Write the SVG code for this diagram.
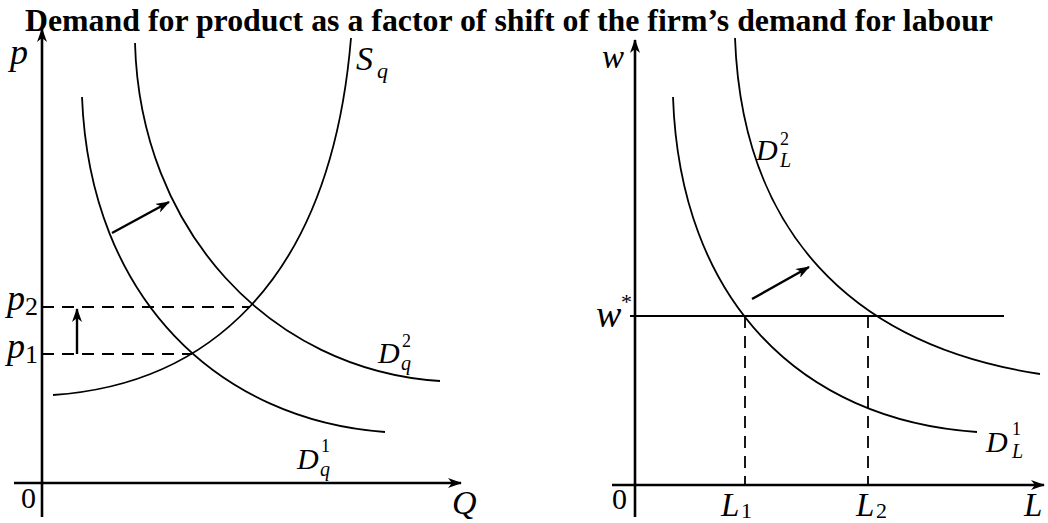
<svg xmlns="http://www.w3.org/2000/svg" width="1048" height="523" viewBox="0 0 1048 523">
<defs>
<marker id="ah" viewBox="0 0 14 10" refX="13" refY="5" markerWidth="14" markerHeight="10" markerUnits="userSpaceOnUse" orient="auto">
<path d="M0,0 L14,5 L0,10 L4,5 z" fill="#000"/>
</marker>
<style>
.ax{stroke:#000;stroke-width:2.6;fill:none}
.cv{stroke:#000;stroke-width:1.8;fill:none}
.ds{stroke:#000;stroke-width:1.8;fill:none;stroke-dasharray:12 8}
.ar{stroke:#000;stroke-width:2.4;fill:none}
.t{font-family:"Liberation Serif",serif;fill:#000}
.i{font-family:"Liberation Serif",serif;font-style:italic;fill:#000}
</style>
</defs>
<rect width="1048" height="523" fill="#fff"/>
<text class="t" x="25" y="31" font-size="31.5" font-weight="bold" textLength="968" lengthAdjust="spacingAndGlyphs">Demand for product as a factor of shift of the firm’s demand for labour</text>

<g id="left-axes">
<line class="ax" x1="42" y1="517" x2="42" y2="29" marker-end="url(#ah)"/>
<line class="ax" x1="14" y1="483" x2="461" y2="483" marker-end="url(#ah)"/>
<text class="i" x="10" y="64" font-size="36">p</text>
<text class="i" x="452" y="514" font-size="34">Q</text>
<text class="t" x="21" y="508" font-size="30">0</text>
</g>

<g id="right-axes">
<line class="ax" x1="635" y1="517" x2="635" y2="40" marker-end="url(#ah)"/>
<line class="ax" x1="612" y1="485" x2="1044" y2="485" marker-end="url(#ah)"/>
<text class="i" x="602" y="68" font-size="33">w</text>
<text class="i" x="1024" y="516" font-size="33">L</text>
<text class="t" x="612" y="509" font-size="30">0</text>
</g>

<g id="connectors">
<line class="ds" x1="42" y1="307" x2="250" y2="307"/>
<line class="ds" x1="42" y1="354" x2="192" y2="354"/>
<line class="ar" x1="77" y1="354" x2="77" y2="309" marker-end="url(#ah)"/>
<line class="ar" x1="112" y1="233" x2="169" y2="202" marker-end="url(#ah)"/>
<line class="cv" x1="630" y1="316" x2="1004" y2="316"/>
<line class="ds" x1="745" y1="316" x2="745" y2="485"/>
<line class="ds" x1="868" y1="316" x2="868" y2="485"/>
<line class="ar" x1="752" y1="299" x2="809" y2="267" marker-end="url(#ah)"/>
</g>

<g id="Dq1">
<path class="cv" d="M82,97 C90,300 220,420 385,432"/>
<text class="i" x="297" y="469" font-size="30">D</text>
<text class="t" x="321" y="452" font-size="18">1</text>
<text class="i" x="320" y="476" font-size="20">q</text>
</g>

<g id="Dq2">
<path class="cv" d="M135,43 C140,230 270,370 440,381"/>
<text class="i" x="378" y="363" font-size="30">D</text>
<text class="t" x="402" y="347" font-size="18">2</text>
<text class="i" x="401" y="370" font-size="20">q</text>
</g>

<g id="Sq">
<path class="cv" d="M53,395 C200,385 330,290 351,38"/>
<text class="i" x="356" y="70" font-size="34">S</text>
<text class="i" x="377" y="78" font-size="22">q</text>
</g>

<g id="p-labels">
<text class="i" x="7" y="310" font-size="36">p</text>
<text class="t" x="25" y="315" font-size="26">2</text>
<text class="i" x="7" y="358" font-size="36">p</text>
<text class="t" x="25" y="363" font-size="26">1</text>
</g>

<g id="DL1">
<path class="cv" d="M673,97 C680,300 800,420 977,432"/>
<text class="i" x="986" y="452" font-size="30">D</text>
<text class="t" x="1012" y="435" font-size="18">1</text>
<text class="i" x="1012" y="458" font-size="20">L</text>
</g>

<g id="DL2">
<path class="cv" d="M735,38 C742,230 850,345 1040,374"/>
<text class="i" x="756" y="160" font-size="30">D</text>
<text class="t" x="780" y="145" font-size="18">2</text>
<text class="i" x="780" y="167" font-size="20">L</text>
</g>

<g id="w-star">
<text class="i" x="596" y="327" font-size="38">w</text>
<text class="t" x="621" y="309" font-size="22">*</text>
</g>

<g id="L-labels">
<text class="i" x="721" y="516" font-size="33">L</text>
<text class="t" x="741" y="518" font-size="22">1</text>
<text class="i" x="856" y="516" font-size="33">L</text>
<text class="t" x="876" y="518" font-size="22">2</text>
</g>
</svg>
